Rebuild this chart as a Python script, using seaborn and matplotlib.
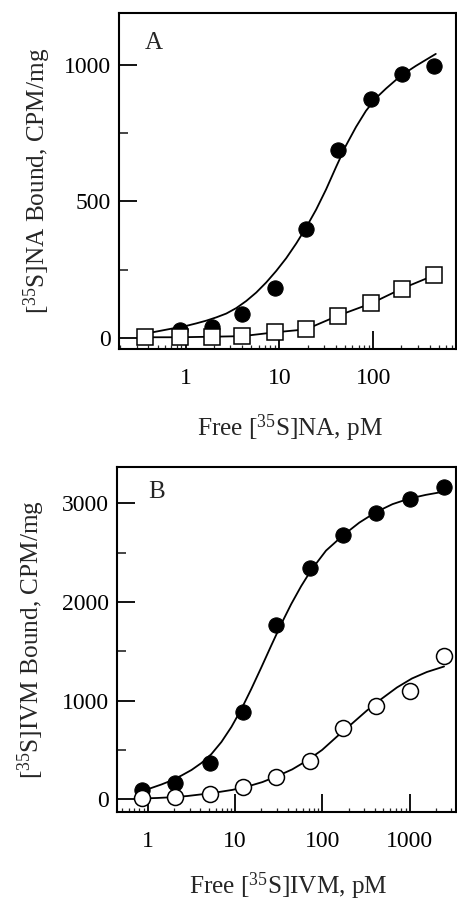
import matplotlib
matplotlib.use("Agg")
import matplotlib.pyplot as plt
import matplotlib.ticker as mticker
import seaborn as sns

# Panel A: [35S]NA binding (filled circles = total, squares = second series)
na_conc = [0.86, 1.9, 4.0, 8.9, 19.2, 42, 95, 201, 446]
na_total = [28, 38, 89, 181, 399, 688, 876, 966, 998]
na_sq_conc = [0.37, 0.86, 1.9, 4.0, 8.9, 19.2, 42, 95, 201, 446]
na_sq_bound = [2, 2, 4, 6, 20, 31, 81, 126, 180, 229]
# fitted curve
na_fit_x = [0.382, 0.488, 0.623, 0.796, 1.02, 1.30, 1.66, 2.12, 2.71, 3.46, 4.42,
            5.65, 7.22, 9.22, 11.8, 15.1, 19.2, 24.6, 31.4, 40.1, 51.2, 65.5,
            83.6, 107, 137, 174, 223, 285, 364, 465]
na_fit_y = [16, 23, 30, 37, 44, 53, 63, 75, 89, 109, 135, 166, 203, 245, 292,
            346, 404, 470, 544, 626, 705, 773, 832, 879, 914, 945, 973, 997,
            1019, 1041]

# Panel B: [35S]IVM binding
ivm_conc = [0.85, 2.04, 5.1, 12.3, 29.6, 72, 171, 410, 1000, 2477]
ivm_filled = [90, 165, 365, 888, 1766, 2340, 2678, 2900, 3040, 3170]
ivm_open = [15, 20, 52, 120, 221, 390, 719, 945, 1095, 1452]
ivm_fit1_x = [0.847, 1.10, 1.43, 1.87, 2.43, 3.16, 4.11, 5.35, 6.96, 9.05, 11.8,
              15.3, 19.9, 25.9, 33.7, 43.9, 57.1, 74.3, 110, 171, 265, 411, 636,
              987, 1531, 2479]
ivm_fit1_y = [84, 115, 150, 191, 241, 297, 368, 459, 581, 733, 915, 1118, 1335,
              1558, 1776, 1979, 2161, 2323, 2521, 2673, 2805, 2911, 2992, 3048,
              3086, 3119]
ivm_fit2_x = [0.870, 1.29, 1.92, 2.84, 4.22, 6.26, 9.29, 13.8, 20.5, 30.4, 45.1,
              66.9, 99.2, 147, 219, 324, 481, 714, 1060, 1573, 2479]
ivm_fit2_y = [8, 13, 21, 33, 51, 71, 95, 129, 174, 235, 303, 393, 500, 636, 768,
              900, 1021, 1133, 1224, 1290, 1346]

sns.set_style("ticks")
plt.rcParams["font.family"] = ["Liberation Serif", "DejaVu Serif"]
plt.rcParams["mathtext.fontset"] = "custom"
plt.rcParams["mathtext.rm"] = "Liberation Serif"
plt.rcParams["mathtext.default"] = "regular"

fig = plt.figure(figsize=(4.57, 9.02), dpi=100)
ax_a = fig.add_axes([0.2604, 0.6131, 0.7374, 0.3725])
ax_b = fig.add_axes([0.2560, 0.0998, 0.7418, 0.3825])

fs = 17
lfs = 18.2
ms = 11

# --- panel A
sns.lineplot(x=na_fit_x, y=na_fit_y, ax=ax_a, color="black", lw=1.3,
             sort=False, estimator=None, zorder=2)
sns.lineplot(x=na_conc, y=na_total, ax=ax_a, color="black", lw=0, marker="o",
             markersize=ms, markeredgecolor="black", sort=False, estimator=None, zorder=3)
sns.lineplot(x=na_sq_conc, y=na_sq_bound, ax=ax_a, color="black", lw=1.3, marker="s",
             markersize=ms, markerfacecolor="white", markeredgecolor="black",
             markeredgewidth=1.1, sort=False, estimator=None, zorder=4)
ax_a.set_xscale("log")
ax_a.set_xlim(0.194, 764)
ax_a.set_ylim(-41, 1191)
ax_a.set_yticks([0, 500, 1000])
ax_a.yaxis.set_minor_locator(mticker.MultipleLocator(250))
ax_a.set_xticks([1, 10, 100])
ax_a.set_xticklabels(["1", "10", "100"])
ax_a.set_xlabel("Free [$^{35}$S]NA, pM", fontsize=lfs)
ax_a.set_ylabel("[$^{35}$S]NA Bound, CPM/mg", fontsize=lfs)
ax_a.xaxis.set_label_coords(0.508, -0.19)
ax_a.yaxis.set_label_coords(-0.195, 0.5)
ax_a.text(0.077, 0.91, "A", transform=ax_a.transAxes, fontsize=18, va="center")

# --- panel B
sns.lineplot(x=ivm_fit1_x, y=ivm_fit1_y, ax=ax_b, color="black", lw=1.3,
             sort=False, estimator=None, zorder=2)
sns.lineplot(x=ivm_fit2_x, y=ivm_fit2_y, ax=ax_b, color="black", lw=1.3,
             sort=False, estimator=None, zorder=2)
sns.lineplot(x=ivm_conc, y=ivm_filled, ax=ax_b, color="black", lw=0, marker="o",
             markersize=ms, markeredgecolor="black", sort=False, estimator=None, zorder=3)
sns.lineplot(x=ivm_conc, y=ivm_open, ax=ax_b, color="black", lw=0, marker="o",
             markersize=ms + 0.5, markerfacecolor="white", markeredgecolor="black",
             markeredgewidth=1.1, sort=False, estimator=None, zorder=4)
ax_b.set_xscale("log")
ax_b.set_xlim(0.442, 3398)
ax_b.set_ylim(-129, 3369)
ax_b.set_yticks([0, 1000, 2000, 3000])
ax_b.yaxis.set_minor_locator(mticker.MultipleLocator(500))
ax_b.set_xticks([1, 10, 100, 1000])
ax_b.set_xticklabels(["1", "10", "100", "1000"])
ax_b.set_xlabel("Free [$^{35}$S]IVM, pM", fontsize=lfs)
ax_b.set_ylabel("[$^{35}$S]IVM Bound, CPM/mg", fontsize=lfs)
ax_b.xaxis.set_label_coords(0.506, -0.17)
ax_b.yaxis.set_label_coords(-0.205, 0.5)
ax_b.text(0.091, 0.928, "B", transform=ax_b.transAxes, fontsize=18, va="center")

for ax in (ax_a, ax_b):
    for sp in ax.spines.values():
        sp.set_visible(True)
        sp.set_linewidth(1.5)
        sp.set_color("black")
    ax.tick_params(which="major", direction="in", length=13, width=1.3,
                   labelsize=fs, color="black", labelcolor="black")
    ax.tick_params(axis="x", which="major", pad=14)
    ax.tick_params(axis="y", which="major", pad=6)
    ax.tick_params(axis="y", which="minor", direction="in", length=6.5, width=1.2)
    ax.tick_params(axis="x", which="minor", direction="in", length=3, width=0.9)
    ax.tick_params(top=False, right=False, which="both")
    ax.xaxis.set_minor_formatter(mticker.NullFormatter())

fig.savefig("out.png", dpi=100)
